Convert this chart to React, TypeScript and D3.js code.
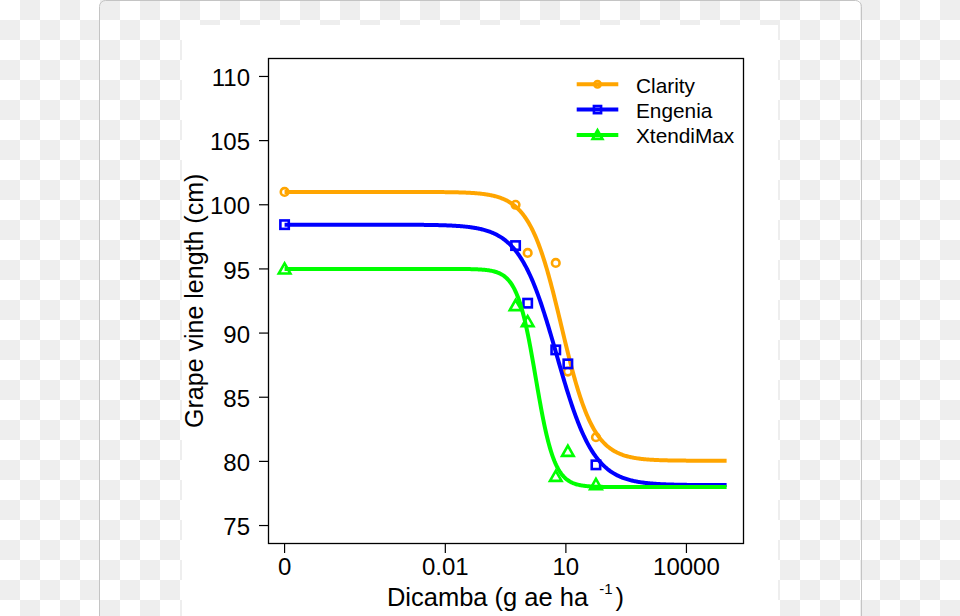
import React from 'react';
import * as d3 from 'd3';

// ---- data ----
const doses = [0, 0.56, 1.12, 5.6, 11.2, 56];
const seriesNames = ['Clarity', 'Engenia', 'XtendiMax'];
const seriesColors = ['#FFA500', '#0000FF', '#00FF00'];
const seriesShapes = ['circle', 'square', 'triangle'];
const clarityLength = [101.0, 100.0, 96.25, 95.47, 87.0, 81.88];
const engeniaLength = [98.45, 96.82, 92.33, 88.69, 87.6, 79.73];
const xtendimaxLength = [95.0, 92.15, 90.9, 78.84, 80.79, 78.2];
// four-parameter log-logistic fit (slope b, lower c, upper d, ED50 e)
const fitSlope = [1.086, 0.934, 1.867];
const fitLower = [80.05, 78.15, 78.0];
const fitUpper = [101.0, 98.45, 95.0];
const fitED50 = [7.76, 5.89, 1.78];
const xTickValues = [0, 0.01, 10, 10000];
const xTickLabels = ['0', '0.01', '10', '10000'];
const yTickValues = [75, 80, 85, 90, 95, 100, 105, 110];
const zeroDose = 1e-6;
const maxDose = 1e5;

const allLengths = [clarityLength, engeniaLength, xtendimaxLength];

const W = 960;
const H = 616;
const plot = { left: 268.5, right: 743.5, top: 58.5, bottom: 543.5 };
const FONT = '"Liberation Sans", Arial, Helvetica, sans-serif';

function Marker({ shape, x, y, color, s = 1 }: { shape: string; x: number; y: number; color: string; s?: number }) {
  const sw = 2.6;
  if (shape === 'circle') {
    return <circle cx={x} cy={y} r={3.8 * s} fill="none" stroke={color} strokeWidth={sw} />;
  }
  if (shape === 'square') {
    const h = 4.2 * s;
    return <rect x={x - h} y={y - h} width={2 * h} height={2 * h} fill="none" stroke={color} strokeWidth={sw} />;
  }
  const a = 5.8 * s;
  const p = `M${x - a},${y + a * 0.8}L${x + a},${y + a * 0.8}L${x},${y - a * 0.95}Z`;
  return <path d={p} fill="none" stroke={color} strokeWidth={sw} strokeLinejoin="miter" />;
}

export default function App() {
  const x = d3.scaleLog().domain([10 ** -6.4, 10 ** 5.42]).range([plot.left, plot.right]);
  const y = d3.scaleLinear().domain([73.6, 111.4]).range([plot.bottom, plot.top]);
  const xd = (d: number) => x(d === 0 ? zeroDose : d);

  const grid = d3.range(Math.log10(zeroDose), Math.log10(maxDose) + 1e-9, 0.02).map((l) => 10 ** l);
  const line = d3
    .line<number[]>()
    .x((d) => x(d[0]))
    .y((d) => y(d[1]));

  const curves = seriesNames.map((_, i) => {
    const b = fitSlope[i], c = fitLower[i], dU = fitUpper[i], e = fitED50[i];
    const pts = grid.map((g) => [g, c + (dU - c) / (1 + Math.exp(b * (Math.log(g) - Math.log(e))))]);
    return line(pts) || '';
  });

  const legendY = [84.3, 109.6, 134.9];

  return (
    <svg
      width={W}
      height={H}
      viewBox={`0 0 ${W} ${H}`}
      style={{ position: 'absolute', left: 0, top: 0, display: 'block' }}
      fontFamily={FONT}
    >
      <defs>
        <pattern id="checker" x={0} y={0} width={40} height={40} patternUnits="userSpaceOnUse">
          <rect width={40} height={40} fill="#ffffff" />
          <rect x={20} y={0} width={20} height={20} fill="#eeeeee" />
          <rect x={0} y={20} width={20} height={20} fill="#eeeeee" />
        </pattern>
      </defs>
      <rect width={W} height={H} fill="url(#checker)" />
      <rect x={99.5} y={0.5} width={762} height={700} rx={6} fill="none" stroke="#c4c4c4" strokeWidth={1} />
      <rect x={182} y={25} width={596} height={H - 25} fill="#ffffff" />

      {/* plot frame */}
      <rect
        x={plot.left}
        y={plot.top}
        width={plot.right - plot.left}
        height={plot.bottom - plot.top}
        fill="none"
        stroke="#000"
        strokeWidth={1.3}
      />

      {/* y axis */}
      {yTickValues.map((v) => (
        <g key={'y' + v}>
          <line x1={plot.left} x2={plot.left - 9.5} y1={y(v)} y2={y(v)} stroke="#000" strokeWidth={1.2} />
          <text x={250} y={y(v) + 9.6} textAnchor="end" fontSize={24} fill="#000">
            {v}
          </text>
        </g>
      ))}
      {/* x axis */}
      {xTickValues.map((v, i) => (
        <g key={'x' + v}>
          <line x1={xd(v)} x2={xd(v)} y1={plot.bottom} y2={plot.bottom + 9.5} stroke="#000" strokeWidth={1.2} />
          <text x={xd(v)} y={575} textAnchor="middle" fontSize={24} fill="#000">
            {xTickLabels[i]}
          </text>
        </g>
      ))}

      <text x={505.5} y={606} textAnchor="middle" fontSize={25.5} fill="#000">
        {'Dicamba (g ae ha '}
        <tspan fontSize={15} dx={4} dy={-12}>
          -1
        </tspan>
        <tspan dx={3} dy={12}>
          )
        </tspan>
      </text>
      <text transform="translate(203,300.8) rotate(-90)" textAnchor="middle" fontSize={25} fill="#000">
        Grape vine length (cm)
      </text>

      {/* series */}
      {seriesNames.map((name, i) => (
        <g key={name}>
          <path d={curves[i]} fill="none" stroke={seriesColors[i]} strokeWidth={4} />
          {doses.map((dv, j) => (
            <Marker key={j} shape={seriesShapes[i]} x={xd(dv)} y={y(allLengths[i][j])} color={seriesColors[i]} />
          ))}
        </g>
      ))}

      {/* legend */}
      {seriesNames.map((name, i) => (
        <g key={'lg' + name}>
          <line x1={576.7} x2={618.3} y1={legendY[i]} y2={legendY[i]} stroke={seriesColors[i]} strokeWidth={4} />
          <Marker shape={seriesShapes[i]} x={597.5} y={legendY[i]} color={seriesColors[i]} s={0.85} />
          <text x={636} y={legendY[i] + 8.2} fontSize={20.8} fill="#000">
            {name}
          </text>
        </g>
      ))}
    </svg>
  );
}
